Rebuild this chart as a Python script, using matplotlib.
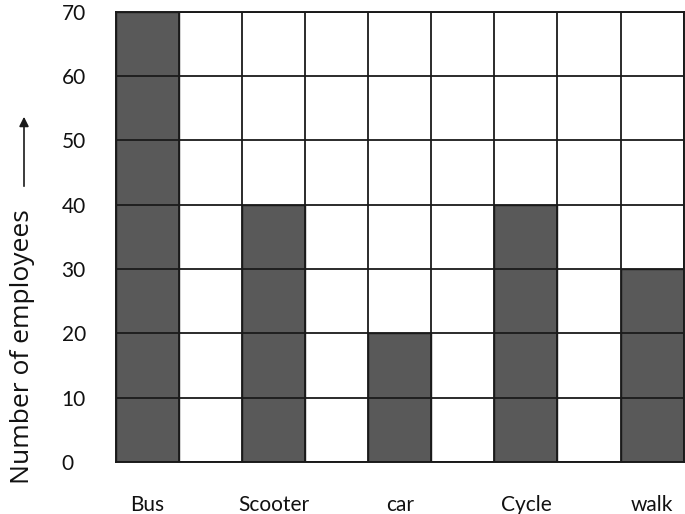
import matplotlib.pyplot as plt

# 数据
modes = ['Bus', 'Scooter', 'car', 'Cycle', 'walk']
employees = [70, 40, 20, 40, 30]
bar_slots = [0.5, 2.5, 4.5, 6.5, 8.5]  # 9格，每隔一格一根柱子
y_ticks = [0, 10, 20, 30, 40, 50, 60, 70]

plt.rcParams['font.family'] = ['Lato', 'DejaVu Sans']

fig = plt.figure(figsize=(6.85, 5.14), dpi=100)
ax = fig.add_axes([0.169, 0.101, 0.829, 0.876])

ax.bar(bar_slots, employees, width=1.0, color='#595959', edgecolor='#1a1a1a', linewidth=1.0, zorder=1)

# 网格
ax.set_xlim(0, 9)
ax.set_ylim(0, 70)
ax.set_xticks(range(10), minor=True)
ax.set_yticks(y_ticks)
ax.grid(which='minor', axis='x', color='#1a1a1a', linewidth=1.3, zorder=2)
ax.grid(which='major', axis='y', color='#1a1a1a', linewidth=1.3, zorder=2)
ax.set_axisbelow(False)
for s in ax.spines.values():
    s.set_color('#1a1a1a')
    s.set_linewidth(1.4)

ax.set_xticks(bar_slots)
ax.set_xticklabels(modes)
ax.tick_params(axis='both', which='both', length=0, labelsize=15, labelcolor='#111111')
ax.tick_params(axis='x', pad=24)
ax.tick_params(axis='y', pad=39)
for lbl in ax.get_yticklabels():
    lbl.set_horizontalalignment('left')

# 纵轴标题和箭头
fig.text(23 / 685, 0.326, 'Number of employees', rotation=90, ha='center', va='center',
         fontsize=19, family=['Open Sans', 'DejaVu Sans'], color='#111111')
ax.annotate('', xy=(24, 400), xytext=(24, 325), xycoords='figure pixels', textcoords='figure pixels',
            arrowprops=dict(arrowstyle='-|>', color='#1a1a1a', lw=1.2, mutation_scale=14))

fig.savefig('out.png', dpi=100)
